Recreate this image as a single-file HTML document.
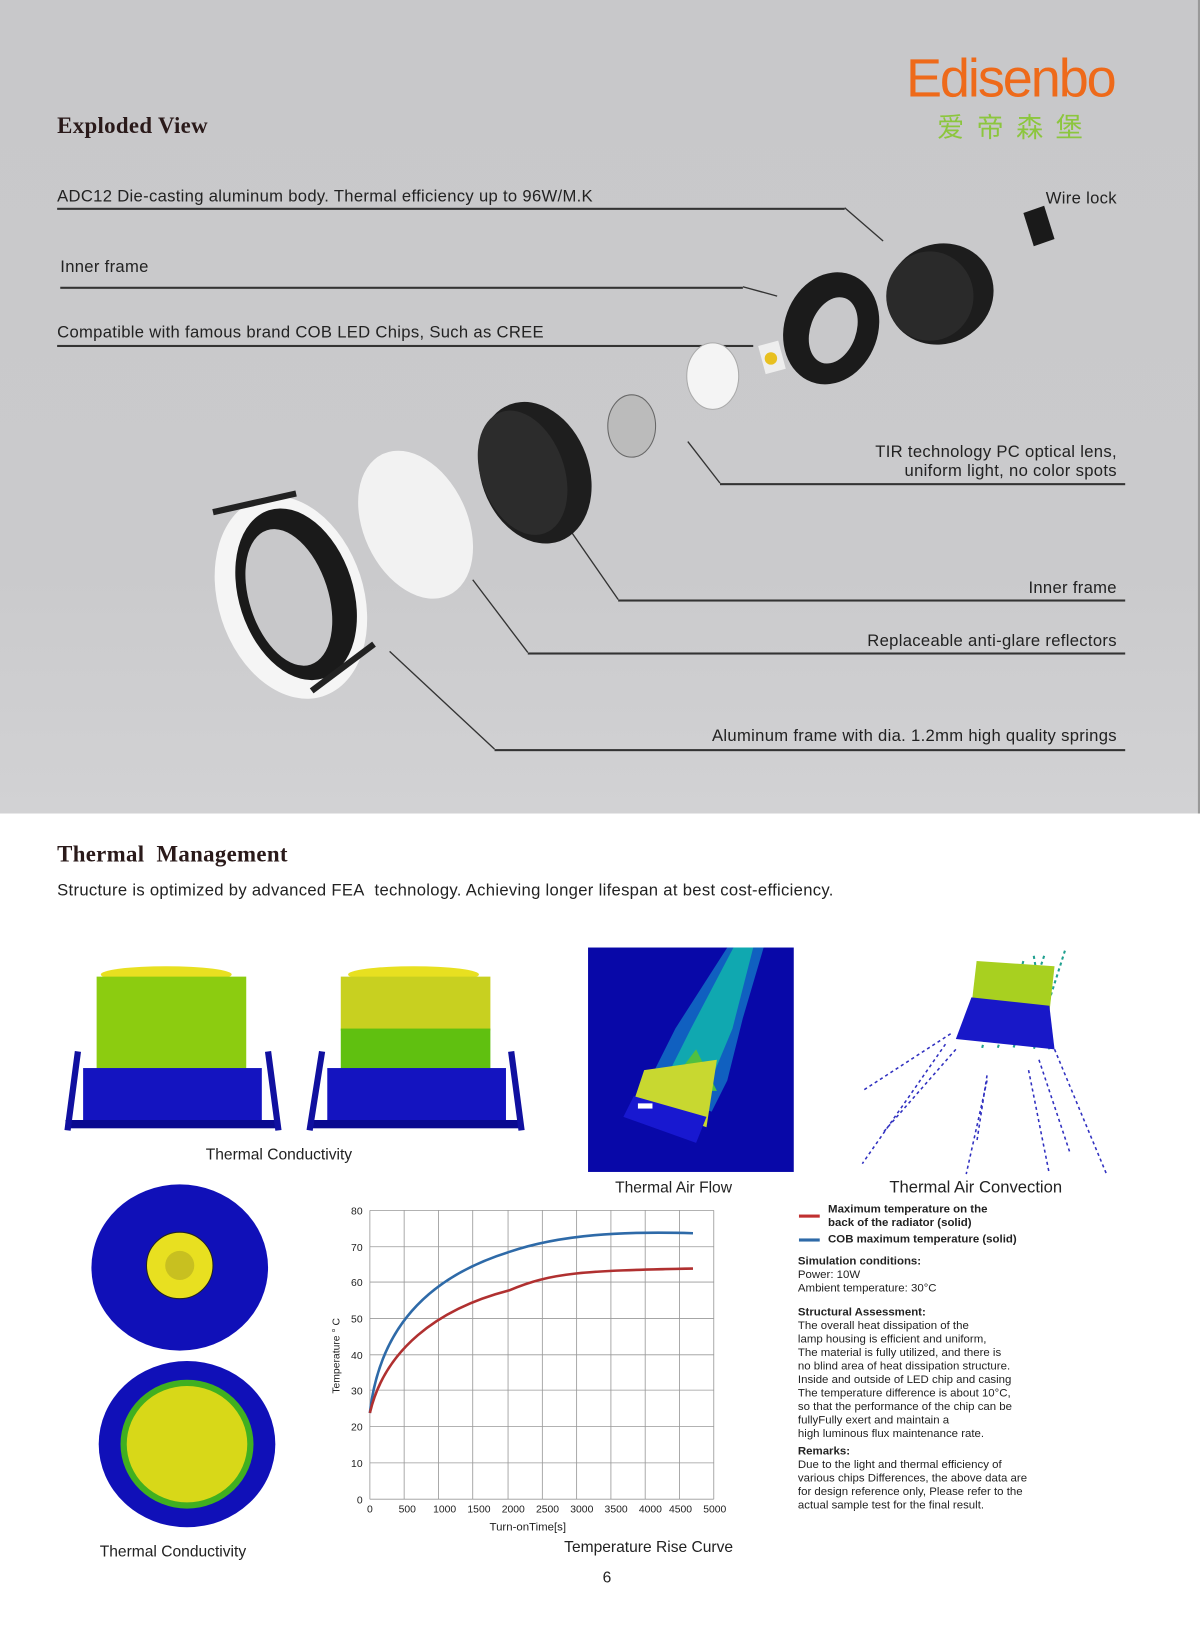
<!DOCTYPE html>
<html><head><meta charset="utf-8"><style>
html,body{margin:0;padding:0;background:#fff;overflow:hidden}
#w{width:1155px;height:1568px;transform:scale(1.03896);transform-origin:0 0;position:relative;font-family:"Liberation Sans",sans-serif;color:#222}
.t{position:absolute;white-space:nowrap}
.h{font-family:"Liberation Serif",serif;font-weight:bold;font-size:22px;color:#2a1a1a;letter-spacing:0.3px}
.l{font-size:16px;letter-spacing:0.3px;color:#222}
.r{right:80px;text-align:right}
.ln{position:absolute;height:1.5px;background:#333}
.s{font-size:11px;line-height:13px;color:#222}
</style></head><body><div id="w">
<div style="position:absolute;left:0;top:0;width:1155px;height:783px;background:linear-gradient(#c8c8ca,#cacacc 70%,#d2d2d4)"></div>
<div style="position:absolute;left:1153px;top:0;width:2px;height:783px;background:#999"></div>
<div class="t" style="left:872px;top:46px;font-size:52px;color:#ee6a1a;letter-spacing:-2px;font-family:'Liberation Sans',sans-serif">Edisenbo</div>
<div class="t" style="left:902px;top:103px;font-size:26px;color:#8cc63e;letter-spacing:12px;font-family:'Liberation Sans','Noto Sans CJK SC',sans-serif">爱帝森堡</div>
<div class="t h" style="left:55px;top:108px">Exploded View</div>

<div class="t l" style="left:55px;top:181px">ADC12 Die-casting aluminum body. Thermal efficiency up to 96W/M.K</div>
<div class="ln" style="left:55px;top:200px;width:758px"></div>
<div class="t l" style="left:58px;top:249px">Inner frame</div>
<div class="ln" style="left:58px;top:276px;width:657px"></div>
<div class="t l" style="left:55px;top:312px">Compatible with famous brand COB LED Chips, Such as CREE</div>
<div class="ln" style="left:55px;top:332px;width:670px"></div>
<div class="t l r" style="top:183px">Wire lock</div>
<div class="t l r" style="top:427px;line-height:18px">TIR technology PC optical lens,<br>uniform light, no color spots</div>
<div class="ln" style="left:693px;top:465px;width:390px"></div>
<div class="t l r" style="top:558px">Inner frame</div>
<div class="ln" style="left:595px;top:577px;width:488px"></div>
<div class="t l r" style="top:609px">Replaceable anti-glare reflectors</div>
<div class="ln" style="left:508px;top:628px;width:575px"></div>
<div class="t l r" style="top:700px">Aluminum frame with dia. 1.2mm high quality springs</div>
<div class="ln" style="left:476px;top:721px;width:607px"></div>

<svg style="position:absolute;left:0;top:0" width="1155" height="783">
<g stroke="#333" stroke-width="1.3" fill="none">
<path d="M813 200 L850 232"/><path d="M715 276 L748 285"/>
<path d="M662 425 L693 465"/><path d="M545 505 L595 577"/><path d="M455 558 L508 628"/><path d="M375 627 L476 721"/>
</g>
<ellipse cx="905" cy="283" rx="52" ry="48" fill="#1d1d1d" transform="rotate(-25 905 283)"/>
<ellipse cx="895" cy="285" rx="42" ry="43" fill="#2a2a2a"/>
<polygon points="985,205 1005,198 1015,230 995,237" fill="#1a1a1a"/>
<ellipse cx="800" cy="316" rx="45" ry="55" fill="#1b1b1b" transform="rotate(20 800 316)"/>
<ellipse cx="802" cy="318" rx="22" ry="33" fill="#c8c8ca" transform="rotate(20 802 318)"/>
<rect x="733" y="330" width="20" height="28" fill="#eee" transform="rotate(-15 743 344)"/>
<circle cx="742" cy="345" r="6" fill="#e8c020"/>
<ellipse cx="686" cy="362" rx="25" ry="32" fill="#f4f4f4" stroke="#aaa"/>
<ellipse cx="608" cy="410" rx="23" ry="30" fill="#bbb" stroke="#666"/>
<ellipse cx="515" cy="455" rx="52" ry="70" fill="#1e1e1e" transform="rotate(-20 515 455)"/>
<ellipse cx="503" cy="455" rx="40" ry="62" fill="#2c2c2c" transform="rotate(-20 503 455)"/>
<ellipse cx="400" cy="505" rx="50" ry="75" fill="#f2f2f2" transform="rotate(-25 400 505)"/>
<ellipse cx="280" cy="575" rx="70" ry="100" fill="#f5f5f5" transform="rotate(-18 280 575)"/>
<ellipse cx="285" cy="572" rx="55" ry="85" fill="#1a1a1a" transform="rotate(-18 285 572)"/>
<ellipse cx="278" cy="575" rx="38" ry="68" fill="#c8c8ca" transform="rotate(-18 278 575)"/>
<path d="M205 493 L285 475" stroke="#222" stroke-width="6"/>
<path d="M300 665 L360 620" stroke="#222" stroke-width="6"/>
</svg>

<div class="t h" style="left:55px;top:809px">Thermal&nbsp; Management</div>
<div class="t l" style="left:55px;top:849px">Structure is optimized by advanced FEA&nbsp; technology. Achieving longer lifespan at best cost-efficiency.</div>

<svg style="position:absolute;left:0;top:900px" width="1155" height="620">
<g>
<ellipse cx="160" cy="38" rx="63" ry="8" fill="#e8e020"/>
<rect x="93" y="40" width="144" height="92" fill="#8ccc10"/>
<rect x="80" y="128" width="172" height="56" fill="#1414c0"/>
<rect x="63" y="178" width="205" height="8" fill="#0a0a90"/>
<path d="M75 112 L65 188 M258 112 L268 188" stroke="#1010a0" stroke-width="6"/>
<ellipse cx="398" cy="38" rx="63" ry="8" fill="#e8e020"/>
<rect x="328" y="40" width="144" height="52" fill="#c8d020"/>
<rect x="328" y="90" width="144" height="40" fill="#60c010"/>
<rect x="315" y="128" width="172" height="56" fill="#1414c0"/>
<rect x="298" y="178" width="205" height="8" fill="#0a0a90"/>
<path d="M310 112 L298 188 M492 112 L502 188" stroke="#1010a0" stroke-width="6"/>
</g>
<rect x="566" y="12" width="198" height="216" fill="#0808a8"/>
<path d="M700 12 L735 12 L715 80 L700 140 L685 170 L620 150 L650 90 Z" fill="#1060c0"/>
<path d="M706 12 L725 12 L705 90 L680 150 L640 140 L665 90 Z" fill="#10a8b0"/>
<path d="M640 150 L670 110 L690 150 Z" fill="#50c040"/>
<polygon points="620,130 690,120 680,185 610,160" fill="#c8d830"/>
<polygon points="610,155 680,175 670,200 600,175" fill="#1818d0"/>
<rect x="614" y="162" width="14" height="5" fill="#fff"/>
<g stroke="#20a090" stroke-width="2" stroke-dasharray="3 3">
<path d="M965 30 L945 110"/><path d="M985 25 L960 110"/><path d="M1005 20 L975 110"/><path d="M1025 15 L995 110"/><path d="M995 20 L1010 110"/>
</g>
<polygon points="940,25 1015,30 1010,75 935,68" fill="#a8d020"/>
<polygon points="935,60 1010,68 1015,110 920,100" fill="#1818c8"/>
<g stroke="#3030c0" stroke-width="1.5" stroke-dasharray="3 3">
<path d="M915 95 L830 150"/><path d="M920 110 L850 190"/><path d="M950 135 L940 200"/><path d="M1000 120 L1030 210"/><path d="M1015 110 L1065 230"/><path d="M950 140 L930 230"/><path d="M990 130 L1010 230"/><path d="M910 105 L830 220"/>
</g>
<ellipse cx="173" cy="320" rx="85" ry="80" fill="#1010b8"/>
<ellipse cx="173" cy="318" rx="32" ry="32" fill="#e8e020" stroke="#222"/>
<circle cx="173" cy="318" r="14" fill="#c8c020"/>
<ellipse cx="180" cy="490" rx="85" ry="80" fill="#1010b8"/>
<ellipse cx="180" cy="490" rx="64" ry="62" fill="#40b020"/>
<ellipse cx="180" cy="490" rx="58" ry="56" fill="#d8d818"/>
</svg>
<div class="t" style="left:198px;top:1103px;font-size:15px">Thermal Conductivity</div>
<div class="t" style="left:592px;top:1135px;font-size:15px">Thermal Air Flow</div>
<div class="t" style="left:856px;top:1135px;font-size:16px">Thermal Air Convection</div>
<div class="t" style="left:96px;top:1485px;font-size:15px">Thermal Conductivity</div>
<div class="t" style="left:543px;top:1481px;font-size:15px">Temperature Rise Curve</div>
<div class="t" style="left:580px;top:1510px;font-size:15px">6</div>

<svg style="position:absolute;left:300px;top:1150px" width="420" height="330" font-family="Liberation Sans" font-size="10" fill="#222">
<g stroke="#999" stroke-width="0.8">
<path d="M56 15 H387 M56 50 H387 M56 84 H387 M56 119 H387 M56 154 H387 M56 188 H387 M56 223 H387 M56 258 H387 M56 293 H387"/>
<path d="M56 15 V293 M89 15 V293 M122 15 V293 M155 15 V293 M189 15 V293 M222 15 V293 M255 15 V293 M288 15 V293 M321 15 V293 M354 15 V293 M387 15 V293"/>
</g>
<g text-anchor="end"><text x="49" y="19">80</text><text x="49" y="54">70</text><text x="49" y="88">60</text><text x="49" y="123">50</text><text x="49" y="158">40</text><text x="49" y="192">30</text><text x="49" y="227">20</text><text x="49" y="262">10</text><text x="49" y="297">0</text></g>
<g text-anchor="middle"><text x="56" y="306">0</text><text x="92" y="306">500</text><text x="128" y="306">1000</text><text x="161" y="306">1500</text><text x="194" y="306">2000</text><text x="227" y="306">2500</text><text x="260" y="306">3000</text><text x="293" y="306">3500</text><text x="326" y="306">4000</text><text x="355" y="306">4500</text><text x="388" y="306">5000</text><text x="208" y="323" font-size="11">Turn-onTime[s]</text></g>
<text transform="translate(27 155) rotate(-90)" text-anchor="middle">Temperature ° C</text>
<path d="M56 210 C65 130 110 80 190 55 C240 38 300 35 367 37" stroke="#2e6aa8" stroke-width="2.5" fill="none"/>
<path d="M56 210 C70 150 120 110 190 92 C230 75 260 73 367 71" stroke="#b03030" stroke-width="2.5" fill="none"/>
</svg>

<div style="position:absolute;left:769px;top:1169px;width:20px;height:2.5px;background:#c03030"></div>
<div style="position:absolute;left:769px;top:1192px;width:20px;height:2.5px;background:#2e6aa8"></div>
<div class="t s" style="left:797px;top:1158px;font-weight:bold">Maximum temperature on the<br>back of the radiator (solid)</div>
<div class="t s" style="left:797px;top:1187px;font-weight:bold">COB maximum temperature (solid)</div>
<div class="t s" style="left:768px;top:1208px"><b>Simulation conditions:</b><br>Power: 10W<br>Ambient temperature: 30°C</div>
<div class="t s" style="left:768px;top:1257px"><b>Structural Assessment:</b><br>The overall heat dissipation of the<br>lamp housing is efficient and uniform,<br>The material is fully utilized, and there is<br>no blind area of heat dissipation structure.<br>Inside and outside of LED chip and casing<br>The temperature difference is about 10°C,<br>so that the performance of the chip can be<br>fullyFully exert and maintain a<br>high luminous flux maintenance rate.</div>
<div class="t s" style="left:768px;top:1391px"><b>Remarks:</b><br>Due to the light and thermal efficiency of<br>various chips Differences, the above data are<br>for design reference only, Please refer to the<br>actual sample test for the final result.</div>
</div></body></html>
